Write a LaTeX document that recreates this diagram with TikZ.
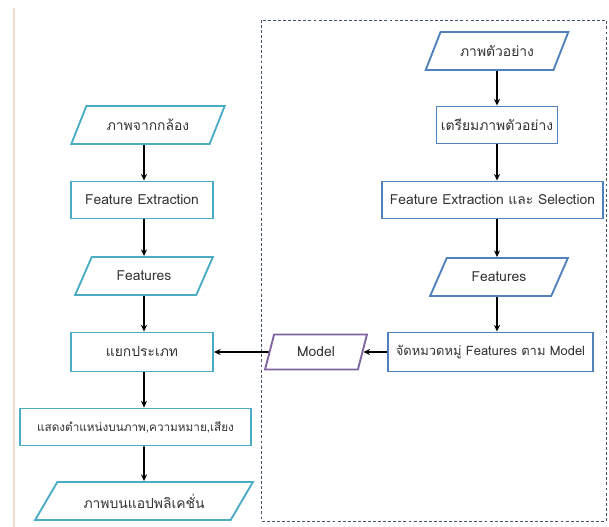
\documentclass[tikz,border=0pt]{standalone}
\usepackage{fontspec}
\setmainfont[Script=Thai]{Loma}
\usepackage{xcolor}
\usepackage{tikz}
\usetikzlibrary{shapes.geometric, arrows.meta}
\definecolor{myteal}{RGB}{75,172,198}
\definecolor{myblue}{RGB}{79,129,189}
\definecolor{mypurple}{RGB}{128,100,162}
\definecolor{mydash}{RGB}{68,84,106}
\definecolor{mybeige}{RGB}{240,222,205}
\tikzstyle{process} = [rectangle, minimum height=27.75pt, inner sep=1pt, text centered, line width=1.4pt, fill=white, text=black!80]
\tikzstyle{io} = [trapezium, trapezium left angle=54, trapezium right angle=126, trapezium stretches=true, minimum height=28.5pt, inner sep=1pt, text centered, line width=1.4pt, fill=white, text=black!80]
\tikzstyle{arrow} = [line width=1.4pt, -{Stealth[length=5pt,width=4.5pt]}]

\begin{document}
\begin{tikzpicture}[x=0.75pt, y=-0.75pt, font=\fontsize{10.4}{12}\selectfont]
\useasboundingbox (0,0) rectangle (609,527);
\draw[mybeige, line width=0.8pt] (14,8) -- (14,527);

% training part (dashed frame)
\draw[mydash, dashed, dash pattern=on 2.2pt off 1.6pt, line width=0.6pt] (261,20) rectangle (606,521);

\node[io, draw=myblue, minimum width=107pt] (sample) at (497,51) {ภาพตัวอย่าง};
\node[process, draw=myblue, minimum width=90.75pt] (prep) at (497,125) {เตรียมภาพตัวอย่าง};
\node[process, draw=myblue, minimum width=165.75pt] (fesel) at (492.5,200) {Feature Extraction และ Selection};
\node[io, draw=myblue, minimum width=103.5pt] (featR) at (499,277) {Features};
\node[process, draw=myblue, minimum width=153.75pt, minimum height=29.25pt, font=\fontsize{9.7}{12}\selectfont] (group) at (490.5,352) {จัดหมวดหมู่ Features ตาม Model};
\node[io, draw=mypurple, trapezium left angle=71, trapezium right angle=109, minimum width=76.5pt, minimum height=26.25pt] (model) at (316,352) {Model};

% using part
\node[io, draw=myteal, minimum width=116pt] (camera) at (148,125) {ภาพจากกล้อง};
\node[process, draw=myteal, minimum width=106.5pt] (fext) at (142,200) {Feature Extraction};
\node[io, draw=myteal, minimum width=103.5pt] (featL) at (144,276) {Features};
\node[process, draw=myteal, minimum width=106.5pt, minimum height=29.25pt] (classify) at (142,352) {แยกประเภท};
\node[process, draw=myteal, minimum width=173.25pt, font=\fontsize{8.8}{11}\selectfont] (show) at (135.5,427) {แสดงตำแหน่งบนภาพ,ความหมาย,เสียง};
\node[io, draw=myteal, trapezium left angle=47, trapezium right angle=133, minimum width=163.5pt] (app) at (144,501) {ภาพบนแอปพลิเคชั่น};

\draw[arrow] (sample.south -| 497,0) -- (prep.north);
\draw[arrow] (prep.south) -- (prep.south |- fesel.north);
\draw[arrow] (prep.south |- fesel.south) -- (prep.south |- featR.north);
\draw[arrow] (prep.south |- featR.south) -- (prep.south |- group.north);
\draw[arrow] (group.west) -- (model.east);
\draw[arrow] (model.west) -- (classify.east);

\draw[arrow] (144,0 |- camera.south) -- (144,0 |- fext.north);
\draw[arrow] (144,0 |- fext.south) -- (144,0 |- featL.north);
\draw[arrow] (144,0 |- featL.south) -- (144,0 |- classify.north);
\draw[arrow] (144,0 |- classify.south) -- (144,0 |- show.north);
\draw[arrow] (144,0 |- show.south) -- (app.north);
\end{tikzpicture}
\end{document}
